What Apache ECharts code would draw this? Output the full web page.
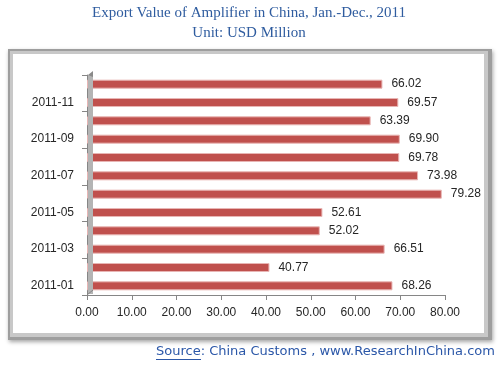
<!DOCTYPE html>
<html><head><meta charset="utf-8">
<script src="https://cdn.jsdelivr.net/npm/echarts@6/dist/echarts.min.js"></script>
<style>html,body{margin:0;padding:0;background:#fff}#c{width:498px;height:366px}</style>
</head><body><div id="c"></div>
<script>
var months = ['2011-01','2011-02','2011-03','2011-04','2011-05','2011-06','2011-07','2011-08','2011-09','2011-10','2011-11','2011-12'];
var exportValues = [68.26,40.77,66.51,52.02,52.61,79.28,73.98,69.78,69.90,63.39,69.57,66.02];
var xTicks = [0,10,20,30,40,50,60,70,80];

var chart = echarts.init(document.getElementById('c'));
var option = {
  animation:false,
  backgroundColor:'#fff',
  title:[
    {text:'Export Value of Amplifier in China, Jan.-Dec., 2011',left:'center',top:1,
     textStyle:{fontFamily:'Liberation Serif',fontSize:15,fontWeight:'normal',color:'#2F5C9F'}},
    {text:'Unit: USD Million',left:'center',top:21,
     textStyle:{fontFamily:'Liberation Serif',fontSize:15,fontWeight:'normal',color:'#2F5C9F'}}
  ],
  graphic:[
    {type:'rect',z:-10,shape:{x:8,y:49,width:484,height:291},
     style:{fill:'#9E9E9E',shadowBlur:4,shadowColor:'rgba(0,0,0,0.35)',shadowOffsetX:1,shadowOffsetY:2}},
    {type:'rect',z:-9,shape:{x:10,y:51,width:478,height:286},style:{fill:'#C8C8C8'}},
    {type:'rect',z:-8,shape:{x:13,y:54,width:471,height:279},style:{fill:'#fff'}},
    {type:'text',left:156,top:345,
     style:{text:'Source: China Customs , www.ResearchInChina.com',fontFamily:'DejaVu Sans',fontSize:13,fill:'#2B57A8'}},
  ],
  grid:{left:87,right:53,top:75,bottom:71},
  xAxis:{type:'value',min:0,max:80,interval:10,
    axisLine:{show:true,lineStyle:{color:'#868686'}},
    axisTick:{show:true,length:5,lineStyle:{color:'#868686'}},
    splitLine:{show:false},
    axisLabel:{margin:12,fontFamily:'Liberation Sans',fontSize:12,color:'#262626',
      formatter:function(v){return v.toFixed(2);}}
  },
  yAxis:{type:'category',data:months,
    axisLine:{show:true,lineStyle:{color:'#868686'}},
    axisTick:{show:true,interval:1,length:5,lineStyle:{color:'#868686'}},
    axisLabel:{interval:1,margin:13,fontFamily:'Liberation Sans',fontSize:12,color:'#262626'}
  },
  series:[{
    type:'bar',data:exportValues,barWidth:9,
    itemStyle:{color:'#C0504D',borderColor:'#E8B5B4',borderWidth:1},
    label:{show:true,position:'right',distance:9,fontFamily:'Liberation Sans',fontSize:12,color:'#262626',
      formatter:function(p){return p.value.toFixed(2);}}
  }]
};
chart.setOption(option);
// decorative 3D wall & underline placed via axis conversion
var x0 = chart.convertToPixel({xAxisIndex:0},0);
var yTop = 75, yBot = 366-71;
chart.setOption({graphic:option.graphic.concat([
  {type:'rect',z:5,shape:{x:x0+1,y:yTop,width:5,height:yBot-yTop-1},style:{fill:'#B4B4B4'}},
  {type:'polygon',z:5,shape:{points:[[x0+1,yTop],[x0+6,yTop-4],[x0+6,yTop+2]]},style:{fill:'#8A8A8A'}},
  {type:'line',z:5,shape:{x1:x0,y1:yBot,x2:x0+6,y2:yBot-5},style:{stroke:'#868686',lineWidth:1}},
  {type:'line',shape:{x1:156,y1:359.5,x2:201,y2:359.5},style:{stroke:'#2B57A8',lineWidth:1}}
])});
</script></body></html>
